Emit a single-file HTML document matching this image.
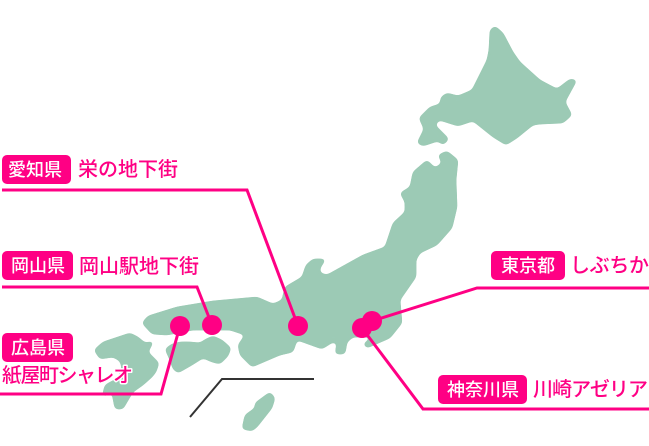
<!DOCTYPE html>
<html><head><meta charset="utf-8"><style>
html,body{margin:0;padding:0;background:#fff}
svg{display:block}
text{font-family:"Liberation Sans","Noto Sans CJK JP",sans-serif;font-weight:500}
.b{fill:#fff;font-size:18px}
.l{fill:#ff0084;font-size:20px;stroke:#fff;stroke-width:3px;paint-order:stroke;stroke-linejoin:round}
</style></head><body>
<svg width="649" height="446" viewBox="0 0 649 446" xmlns="http://www.w3.org/2000/svg">
<defs><filter id="s" x="-5%" y="-5%" width="110%" height="110%" color-interpolation-filters="sRGB">
<feGaussianBlur stdDeviation="2.1"/>
<feColorMatrix type="matrix" values="1 0 0 0 0 0 1 0 0 0 0 0 1 0 0 0 0 0 14 -5.5"/>
</filter></defs>
<g fill="#9ccab5" filter="url(#s)">
<polygon points="495,26 490,30 489,50 487,60 472,90 458,96 447,93 441,97 440,104 430,107 419,118 424,129 417,143 423,146 438,141 443,145 449,139 435,125 439,120 458,126 473,121 493,137 506,145 517,138 533,125 540,124 563,123 572,115 565,102 577,80 570,79 557,89 540,80 520,62 513,52 503,33"/>
<polygon points="438,155 447,151 458,160 456,180 457,207 452,228 437,245 420,253 416,260 416,277 400,300 402,323 390,338 367,348 363,344 373,337 353,337 347,342 345,354 335,354 337,343 333,342 322,349 297,340 293,352 280,355 252,367 240,355 238,345 245,335 230,330 193,330 167,335 152,334 142,323 148,316 177,307 213,301 257,297 273,304 282,300 285,287 302,277 306,265 313,259 326,259 320,268 320,273 327,275 363,255 385,247 393,223 405,212 405,202 400,193 410,187 413,172 427,160 435,168 442,163"/>
<polygon points="165,349 172,344 180,342 190,342 200,343 206,339 213,336 222,340 231,348 228,356 220,364 212,362 203,358 192,365 178,373 173,369 170,360"/>
<polygon points="94,350 103,342 130,333 138,337 145,343 154,341 148,352 159,363 156,372 152,377 143,385 133,392 127,402 123,409 115,409 112,393 102,397 105,385 118,378 122,368 120,361 113,357 100,359"/>
<polygon points="242,429 245,415 255,408 255,403 270,392 275,398 272,408 257,427 252,431"/>
</g>
<polyline points="190,417 222,379 314,379" fill="none" stroke="#333" stroke-width="2"/>
<g fill="none" stroke="#ff0084" stroke-width="3">
<polyline points="2,190 247,190 298,326"/>
<polyline points="2,287 197,287 212,325"/>
<polyline points="0,394 161,394 180,326"/>
<polyline points="372,321 477,288 649,288"/>
<polyline points="362,328 423,409 649,409"/>
</g>
<g fill="#ff0084">
<circle cx="180" cy="326" r="10"/><circle cx="212" cy="325" r="10"/><circle cx="298" cy="326" r="10"/><circle cx="372" cy="321" r="10"/><circle cx="362" cy="328" r="10"/>
<rect x="2" y="155" width="69" height="29" rx="5"/>
<rect x="2" y="251" width="71" height="29" rx="5"/>
<rect x="2" y="333" width="71" height="29" rx="5"/>
<rect x="491" y="251" width="74" height="29" rx="5"/>
<rect x="438" y="375" width="89" height="29" rx="5"/>
</g>
<text class="b" x="8" y="176" textLength="54">愛知県</text>
<text class="b" x="11" y="272" textLength="54">岡山県</text>
<text class="b" x="11" y="354" textLength="54">広島県</text>
<text class="b" x="501" y="272" textLength="54">東京都</text>
<text class="b" x="447" y="396" textLength="72">神奈川県</text>
<text class="l" x="78" y="176" textLength="100">栄の地下街</text>
<text class="l" x="79" y="273" textLength="120">岡山駅地下街</text>
<text class="l" x="2" y="382" textLength="131">紙屋町シャレオ</text>
<text class="l" x="570" y="272" textLength="79">しぶちか</text>
<text class="l" x="533" y="396" textLength="115">川崎アゼリア</text>
</svg>
</body></html>
